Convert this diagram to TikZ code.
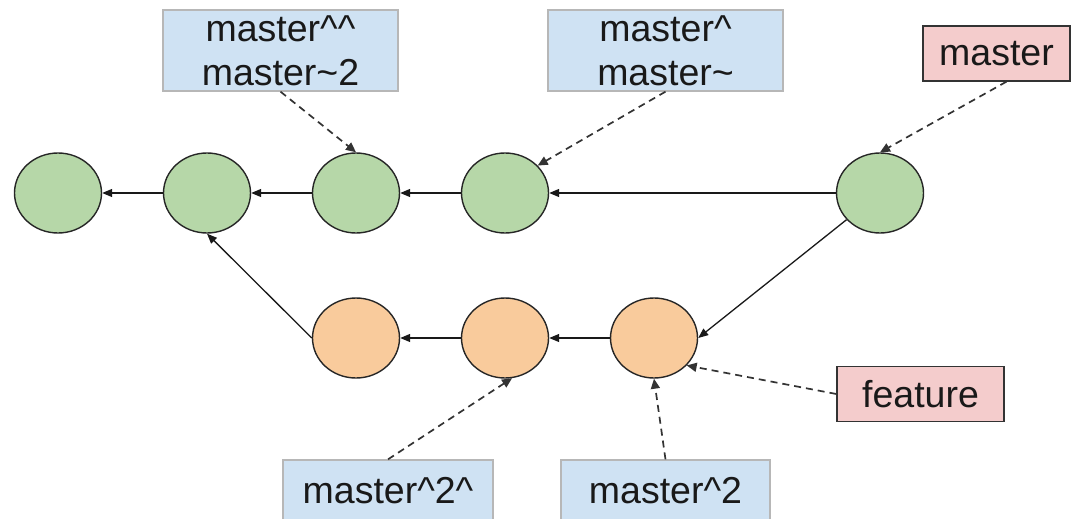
\documentclass[tikz,border=0pt]{standalone}
\usepackage{fontspec}
\setmainfont{Liberation Sans}
\usetikzlibrary{arrows.meta,shapes.geometric}
\definecolor{gfill}{HTML}{B6D7A8}
\definecolor{ofill}{HTML}{F9CB9C}
\definecolor{bfill}{HTML}{CFE2F3}
\definecolor{pfill}{HTML}{F4CCCC}
\definecolor{bline}{HTML}{B7B7B7}
\definecolor{dline}{HTML}{333333}
\tikzset{
  commit/.style={ellipse, draw=black!85, line width=1.4pt, minimum width=87pt, minimum height=80pt, inner sep=0pt},
  gcommit/.style={commit, fill=gfill},
  ocommit/.style={commit, fill=ofill},
  ref/.style={rectangle, inner sep=0pt, align=center, font=\fontsize{37.5pt}{44pt}\selectfont, text=black!90},
  relref/.style={ref, fill=bfill, draw=bline, line width=1.3pt},
  branchref/.style={ref, fill=pfill, draw=dline, line width=1.3pt},
  parent/.style={draw=black!90, line width=1.3pt, -{Triangle[length=10pt,width=8pt]}},
  pointer/.style={draw=dline, line width=1.7pt, dash pattern=on 7pt off 5pt, -{Triangle[length=10pt,width=9pt]}}
}
\begin{document}
\begin{tikzpicture}[x=1pt,y=-1pt]
\useasboundingbox (0,0) rectangle (1073,519);
\clip (0,0) rectangle (1073,519);

% commits on master
\node[gcommit] (e1) at (58,193) {};
\node[gcommit] (e2) at (207,193) {};
\node[gcommit] (e3) at (356,193) {};
\node[gcommit] (e4) at (505,193) {};
\node[gcommit] (e5) at (880,193) {};

% commits on feature
\node[ocommit] (o1) at (356,338) {};
\node[ocommit] (o2) at (505,338) {};
\node[ocommit] (o3) at (654,338) {};

% reference labels
\node[relref, minimum width=235pt, minimum height=81pt] (l1) at (280.5,50.5) {master\textasciicircum\textasciicircum\\master\textasciitilde2};
\node[relref, minimum width=235pt, minimum height=81pt] (l2) at (665.5,50.5) {master\textasciicircum\\master\textasciitilde};
\node[branchref, minimum width=147pt, minimum height=55pt] (l3) at (996.5,53.5) {master};
\node[branchref, minimum width=167pt, minimum height=55pt] (lf) at (920.5,394) {feature};
\node[relref, minimum width=210pt, minimum height=62pt] (l4) at (388,491) {master\textasciicircum2\textasciicircum};
\node[relref, minimum width=209pt, minimum height=62pt] (l5) at (665.5,491) {master\textasciicircum2};

% parent links
\draw[parent] (e2.west) -- (e1.east);
\draw[parent] (e3.west) -- (e2.east);
\draw[parent] (e4.west) -- (e3.east);
\draw[parent] (e5.west) -- (e4.east);
\draw[parent] (e5) -- (o3.east);
\draw[parent] (o3.west) -- (o2.east);
\draw[parent] (o2.west) -- (o1.east);
\draw[parent] (o1.west) -- (e2.south);

% references pointing at commits
\draw[pointer] (l1.south) -- (e3.north);
\draw[pointer] (l2.south) -- (e4.40);
\coordinate (l3a) at ([xshift=10pt]l3.south);
\draw[pointer] (l3a) -- (e5.north);
\draw[pointer] (lf.west) -- (o3.-40);
\draw[pointer] (l5.north) -- (o3.south);
\draw[pointer] (l4.north) -- (o2.-80);
\end{tikzpicture}
\end{document}
